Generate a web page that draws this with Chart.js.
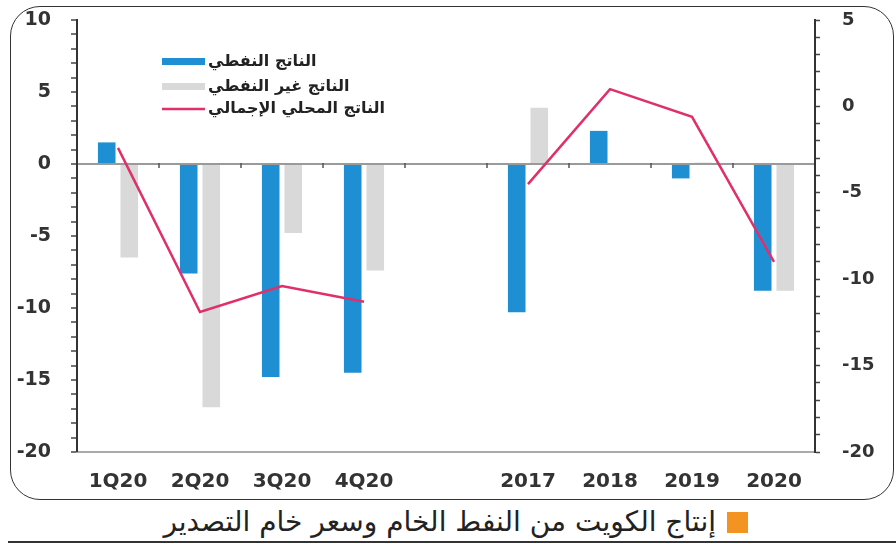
<!DOCTYPE html>
<html lang="ar">
<head>
<meta charset="utf-8">
<script src="https://cdn.jsdelivr.net/npm/chart.js@4.4.1/dist/chart.umd.min.js"></script>
<style>
  html, body { margin: 0; padding: 0; background: #fff; }
  body { width: 896px; height: 544px; position: relative; overflow: hidden; }
  #frame { position: absolute; left: 10px; top: 6px; width: 884px; height: 494px;
           border: 1.5px solid #333; border-radius: 30px; box-sizing: border-box; }
  #wrap { position: absolute; left: 0; top: 0; width: 896px; height: 500px; }
  #caption { position: absolute; right: 180px; top: 502px; height: 40px; line-height: 40px;
             font-family: 'DejaVu Sans', sans-serif; font-size: 28px; color: #222;
             direction: rtl; white-space: nowrap; }
  #sq { position: absolute; left: 727px; top: 512px; width: 21px; height: 21px; background: #f39321; }
  #rule { position: absolute; left: 8px; top: 541px; width: 888px; height: 2px; background: #333; }
</style>
</head>
<body>
<div id="frame"></div>
<div id="wrap"><canvas id="c" width="896" height="500"></canvas></div>
<div id="sq"></div>
<div id="caption">إنتاج الكويت من النفط الخام وسعر خام التصدير</div>
<div id="rule"></div>
<script>
const categories = ['1Q20', '2Q20', '3Q20', '4Q20', '', '2017', '2018', '2019', '2020'];
const oilGDP = [1.5, -7.6, -14.8, -14.5, null, -10.3, 2.3, -1.0, -8.8];
const nonOilGDP = [-6.5, -16.9, -4.8, -7.4, null, 3.9, 0, 0.1, -8.8];
const totalGDP = [-2.4, -11.9, -10.4, -11.3, null, -4.5, 1.0, -0.6, -9.0];
const seriesNames = ['الناتج النفطي', 'الناتج غير النفطي', 'الناتج المحلي الإجمالي'];
const leftTicks = [-20, -15, -10, -5, 0, 5, 10];
const rightTicks = [-20, -15, -10, -5, 0, 5];

const BLUE = '#1f8fd3', GREY = '#d9d9d9', PINK = '#e0306a';
const tickFont = { family: 'DejaVu Sans', size: 19, weight: 'bold' };

const legendPlugin = {
  id: 'customLegend',
  afterDraw(chart) {
    const ctx = chart.ctx;
    const ds = chart.data.datasets;
    const rows = [
      { d: ds[1], y: 62, sy: 61 },
      { d: ds[2], y: 87, sy: 86 },
      { d: ds[0], y: 109, sy: 109 }
    ];
    ctx.save();
    rows.forEach(r => {
      if (r.d.type === 'line') {
        ctx.strokeStyle = r.d.borderColor; ctx.lineWidth = 2.5;
        ctx.beginPath(); ctx.moveTo(162, r.sy); ctx.lineTo(205, r.sy); ctx.stroke();
      } else {
        ctx.fillStyle = r.d.backgroundColor;
        ctx.fillRect(162, r.sy - 3, 43, 7);
      }
      ctx.fillStyle = '#222';
      ctx.font = 'bold 16px "DejaVu Sans"';
      ctx.textAlign = 'left'; ctx.textBaseline = 'middle';
      ctx.direction = 'rtl';
      ctx.fillText(r.d.label, 208, r.y);
    });
    ctx.restore();
  }
};

const zeroTicksPlugin = {
  id: 'zeroTicks',
  afterDatasetsDraw(chart) {
    const x = chart.scales.x, y = chart.scales.y;
    const y0 = y.getPixelForValue(0);
    const ctx = chart.ctx;
    ctx.save();
    ctx.strokeStyle = '#555'; ctx.lineWidth = 1.5;
    for (let i = 1; i < categories.length; i++) {
      const bx = (x.getPixelForValue(i - 1) + x.getPixelForValue(i)) / 2;
      ctx.beginPath(); ctx.moveTo(bx, y0 - 1); ctx.lineTo(bx, y0 + 4); ctx.stroke();
    }
    ctx.restore();
  }
};

new Chart(document.getElementById('c'), {
  data: {
    labels: categories,
    datasets: [
      { type: 'line', label: seriesNames[2], data: totalGDP, yAxisID: 'y1', borderColor: PINK,
        borderWidth: 2.5, pointRadius: 0, tension: 0, spanGaps: false, order: 0 },
      { type: 'bar', label: seriesNames[0], data: oilGDP, yAxisID: 'y', backgroundColor: BLUE,
        categoryPercentage: 0.55, barPercentage: 0.78, order: 1 },
      { type: 'bar', label: seriesNames[1], data: nonOilGDP, yAxisID: 'y', backgroundColor: GREY,
        categoryPercentage: 0.55, barPercentage: 0.78, order: 1 }
    ]
  },
  options: {
    responsive: false,
    animation: false,
    layout: { padding: { top: 20, left: 0, right: 0, bottom: 0 } },
    plugins: { legend: { display: false }, tooltip: { enabled: false } },
    scales: {
      x: {
        grid: { display: true, drawOnChartArea: false, drawTicks: false },
        border: { display: true, color: '#aaa', width: 2 },
        ticks: { font: { family: 'DejaVu Sans', size: 20, weight: 'bold' }, color: '#333', padding: 18, maxRotation: 0 },
        afterFit(s) { s.height = 48; }
      },
      y: {
        position: 'left', min: -20, max: 10,
        afterBuildTicks(s) { const t = []; for (let v = -20; v <= 10; v++) t.push({ value: v }); s.ticks = t; },
        ticks: { autoSkip: false, font: tickFont, color: '#333', padding: 20,
                 callback: v => leftTicks.includes(v) ? String(v) : '' },
        grid: { drawOnChartArea: true, tickLength: 6, tickColor: '#444', tickWidth: 1.5,
                color: c => (c.tick && c.tick.value === 0) ? '#9a9a9a' : 'rgba(0,0,0,0)',
                lineWidth: c => (c.tick && c.tick.value === 0) ? 2 : 0 },
        border: { display: true, color: '#333', width: 2 },
        afterFit(s) { s.width = 77; s.paddingTop = 0; s.paddingBottom = 0; }
      },
      y1: {
        position: 'right', min: -20, max: 5,
        afterBuildTicks(s) { const t = []; for (let v = -20; v <= 5; v++) t.push({ value: v }); s.ticks = t; },
        ticks: { autoSkip: false, font: { family: 'DejaVu Sans', size: 18, weight: 'bold' }, color: '#333', padding: 22,
                 callback: v => rightTicks.includes(v) ? String(v) : '' },
        grid: { drawOnChartArea: false, tickLength: 5, color: '#444', tickWidth: 1.5 },
        border: { display: true, color: '#333', width: 2 },
        afterFit(s) { s.width = 81; s.paddingTop = 0; s.paddingBottom = 0; }
      }
    }
  },
  plugins: [legendPlugin, zeroTicksPlugin]
});
</script>
</body>
</html>
